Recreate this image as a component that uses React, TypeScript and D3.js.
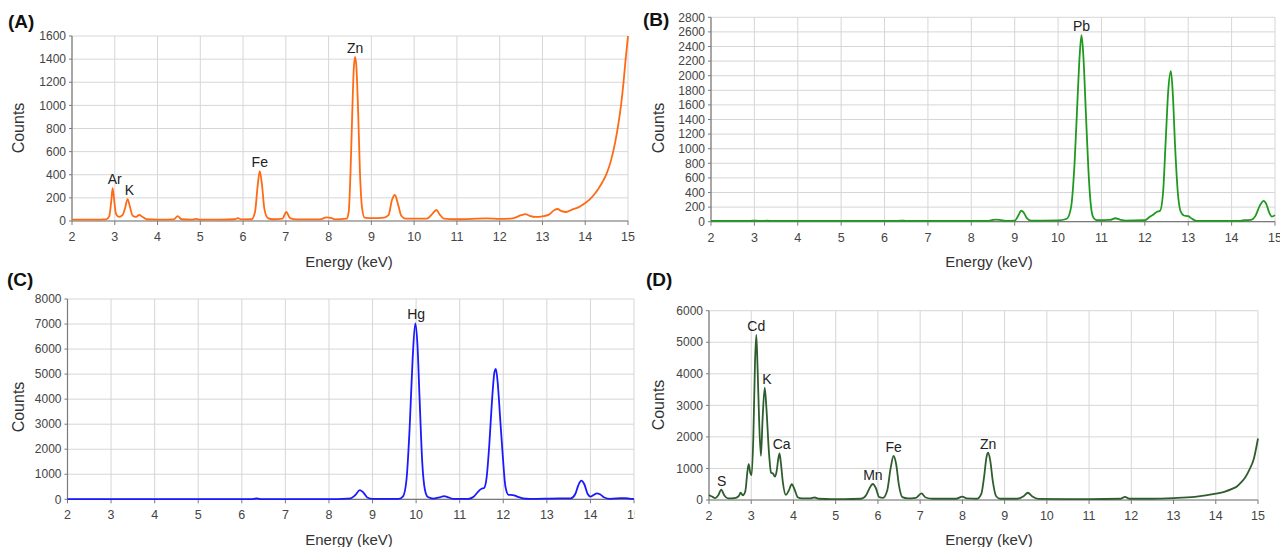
import React from 'react'
import * as d3 from 'd3'

// spectra: [energy keV, counts]
const spectrumA: [number, number][] = [
  [2.0, 12], [2.5, 12], [2.8, 14], [2.87, 40], [2.92, 180], [2.95, 285], [2.98, 200], [3.03, 60], [3.1, 35],
  [3.18, 50], [3.24, 110], [3.3, 190], [3.35, 130], [3.42, 45], [3.5, 35], [3.57, 52], [3.65, 35], [3.75, 15],
  [4.0, 12], [4.38, 14], [4.47, 43], [4.56, 15], [4.8, 12], [4.9, 18], [5.0, 12], [5.5, 12], [5.8, 15],
  [5.88, 25], [5.96, 14], [6.2, 15], [6.28, 80], [6.34, 300], [6.39, 432], [6.44, 320], [6.5, 100], [6.58, 25],
  [6.7, 15], [6.92, 20], [7.01, 78], [7.1, 25], [7.25, 14], [7.8, 14], [7.95, 32], [8.05, 28], [8.15, 14],
  [8.42, 20], [8.47, 80], [8.51, 400], [8.55, 900], [8.59, 1330], [8.62, 1420], [8.65, 1330], [8.69, 950],
  [8.73, 450], [8.78, 120], [8.84, 30], [9.0, 25], [9.3, 30], [9.4, 50], [9.48, 180], [9.55, 225], [9.62, 150],
  [9.7, 45], [9.8, 20], [10.3, 20], [10.42, 60], [10.52, 95], [10.6, 55], [10.7, 20], [11.0, 15], [11.7, 22],
  [12.0, 18], [12.3, 22], [12.5, 50], [12.6, 60], [12.7, 45], [12.85, 35], [13.0, 40], [13.15, 55], [13.28, 95],
  [13.35, 104], [13.45, 85], [13.55, 78], [13.7, 100], [13.85, 120], [14.0, 155], [14.1, 185], [14.2, 225],
  [14.3, 275], [14.4, 335], [14.5, 410], [14.6, 520], [14.7, 680], [14.78, 850], [14.84, 1010], [14.89, 1180],
  [14.94, 1380], [15.0, 1600],
]

const spectrumB: [number, number][] = [
  [2.0, 10], [2.9, 10], [3.0, 16], [3.1, 10], [3.3, 14], [3.4, 10], [6.3, 10], [6.4, 16], [6.5, 10], [8.4, 12],
  [8.55, 28], [8.65, 25], [8.8, 12], [9.0, 15], [9.08, 80], [9.15, 150], [9.2, 130], [9.28, 50], [9.38, 15],
  [10.0, 18], [10.2, 40], [10.3, 200], [10.38, 800], [10.45, 1700], [10.5, 2300], [10.54, 2557], [10.58, 2300],
  [10.64, 1500], [10.7, 700], [10.76, 200], [10.82, 50], [10.9, 20], [11.2, 25], [11.32, 47], [11.42, 30],
  [11.55, 15], [12.0, 20], [12.1, 60], [12.2, 100], [12.28, 137], [12.35, 150], [12.42, 400], [12.48, 1100],
  [12.54, 1800], [12.6, 2064], [12.64, 1800], [12.7, 1000], [12.76, 400], [12.82, 150], [12.9, 85], [13.0, 75],
  [13.1, 35], [13.2, 10], [14.2, 12], [14.3, 20], [14.45, 25], [14.55, 80], [14.65, 220], [14.74, 284],
  [14.8, 240], [14.87, 120], [14.93, 70], [15.0, 90],
]

const spectrumC: [number, number][] = [
  [2.0, 5], [6.2, 5], [6.35, 35], [6.45, 5], [8.1, 8], [8.3, 15], [8.5, 40], [8.6, 160], [8.71, 370], [8.8, 250],
  [8.88, 70], [9.0, 15], [9.6, 20], [9.7, 120], [9.78, 800], [9.85, 2800], [9.92, 5600], [9.98, 7030],
  [10.03, 6200], [10.08, 4000], [10.14, 1500], [10.2, 400], [10.27, 90], [10.4, 30], [10.55, 80], [10.64, 130],
  [10.72, 90], [10.85, 20], [11.2, 20], [11.32, 100], [11.42, 300], [11.5, 420], [11.56, 450], [11.62, 900],
  [11.68, 2200], [11.74, 3900], [11.8, 5100], [11.83, 5205], [11.87, 4700], [11.93, 3200], [11.99, 1700],
  [12.05, 500], [12.12, 180], [12.22, 170], [12.32, 110], [12.45, 40], [12.6, 20], [13.3, 40], [13.55, 40],
  [13.65, 200], [13.72, 550], [13.79, 745], [13.86, 600], [13.94, 200], [14.0, 110], [14.08, 180], [14.15, 240],
  [14.22, 200], [14.32, 70], [14.45, 20], [14.7, 45], [14.8, 50], [14.9, 30], [15.0, 20],
]

const spectrumD: [number, number][] = [
  [2.0, 160], [2.07, 110], [2.15, 60], [2.22, 150], [2.29, 330], [2.36, 150], [2.45, 50], [2.6, 60], [2.7, 120],
  [2.75, 230], [2.8, 150], [2.86, 280], [2.91, 900], [2.94, 1140], [2.98, 850], [3.01, 790], [3.05, 2000],
  [3.09, 4400], [3.12, 5230], [3.15, 4200], [3.19, 2400], [3.23, 1400], [3.27, 2600], [3.32, 3560], [3.36, 2900],
  [3.42, 1500], [3.47, 870], [3.52, 830], [3.56, 740], [3.6, 900], [3.64, 1300], [3.67, 1480], [3.7, 1200],
  [3.75, 550], [3.82, 160], [3.89, 300], [3.96, 500], [4.03, 320], [4.1, 90], [4.2, 50], [4.4, 50], [4.5, 80],
  [4.6, 40], [4.9, 30], [5.2, 30], [5.6, 40], [5.72, 150], [5.82, 420], [5.88, 507], [5.95, 380], [6.03, 90],
  [6.12, 70], [6.22, 300], [6.3, 1000], [6.37, 1395], [6.43, 1150], [6.5, 450], [6.58, 90], [6.7, 50], [6.9, 70],
  [7.03, 210], [7.13, 80], [7.3, 40], [7.85, 40], [8.0, 110], [8.1, 50], [8.35, 40], [8.45, 200], [8.52, 800],
  [8.57, 1350], [8.61, 1500], [8.66, 1250], [8.72, 600], [8.8, 120], [8.9, 40], [9.3, 40], [9.45, 120],
  [9.55, 230], [9.65, 120], [9.8, 35], [10.5, 30], [11.0, 30], [11.75, 40], [11.85, 100], [11.95, 40],
  [12.5, 40], [13.0, 60], [13.5, 100], [14.0, 200], [14.2, 260], [14.4, 360], [14.5, 430], [14.6, 560],
  [14.7, 720], [14.8, 970], [14.9, 1300], [15.0, 1950],
]

// element labels: [name, energy, counts at label]
const labelsA: [string, number, number][] = [['Ar', 3.0, 285], ['K', 3.34, 190], ['Fe', 6.39, 432], ['Zn', 8.62, 1420]]
const labelsB: [string, number, number][] = [['Pb', 10.54, 2557]]
const labelsC: [string, number, number][] = [['Hg', 10.0, 7030]]
const labelsD: [string, number, number][] = [
  ['S', 2.3, 330], ['Cd', 3.12, 5230], ['K', 3.37, 3560], ['Ca', 3.72, 1480],
  ['Mn', 5.88, 507], ['Fe', 6.37, 1395], ['Zn', 8.61, 1500],
]

const energyTicks = d3.range(2, 16)
const yTicksA = d3.range(0, 1601, 200)
const yTicksB = d3.range(0, 2801, 200)
const yTicksC = d3.range(0, 8001, 1000)
const yTicksD = d3.range(0, 6001, 1000)

const FONT = 'Liberation Sans, Arial, sans-serif'

type PanelProps = {
  id: string
  tag: string
  data: [number, number][]
  labels: [string, number, number][]
  yTicks: number[]
  color: string
  box: { l: number; r: number; t: number; b: number }
  tagPos: [number, number]
  xTitle: [number, number]
  yTitle: [number, number]
  clipRight?: number
}

function Panel({ id, tag, data, labels, yTicks, color, box, tagPos, xTitle, yTitle, clipRight }: PanelProps) {
  const x = d3.scaleLinear().domain([2, 15]).range([box.l, box.r])
  const y = d3.scaleLinear().domain([0, yTicks[yTicks.length - 1]]).range([box.b, box.t])
  const line = d3.line<[number, number]>()
    .x(d => x(d[0]))
    .y(d => y(d[1]))
    .curve(d3.curveMonotoneX)

  return (
    <g clipPath={clipRight ? `url(#clip-${id})` : undefined}>
      {clipRight && (
        <defs>
          <clipPath id={`clip-${id}`}>
            <rect x={0} y={0} width={clipRight} height={547} />
          </clipPath>
        </defs>
      )}
      {/* grid */}
      {yTicks.map(t => (
        <line key={'h' + t} x1={box.l} x2={box.r} y1={y(t)} y2={y(t)} stroke="#d6d6d6" strokeWidth={1} />
      ))}
      {energyTicks.map(t => (
        <line key={'v' + t} x1={x(t)} x2={x(t)} y1={box.t} y2={box.b} stroke="#d6d6d6" strokeWidth={1} />
      ))}
      {/* axes */}
      <line x1={box.l} x2={box.l} y1={box.t} y2={box.b} stroke="#7a7a7a" strokeWidth={1.2} />
      <line x1={box.l} x2={box.r} y1={box.b} y2={box.b} stroke="#7a7a7a" strokeWidth={1.2} />
      {energyTicks.map(t => (
        <line key={'xt' + t} x1={x(t)} x2={x(t)} y1={box.b} y2={box.b + 4} stroke="#7a7a7a" />
      ))}
      {yTicks.map(t => (
        <line key={'yt' + t} x1={box.l - 3} x2={box.l} y1={y(t)} y2={y(t)} stroke="#7a7a7a" />
      ))}
      {energyTicks.map(t => (
        <text key={'xl' + t} x={x(t)} y={box.b + 20} textAnchor="middle" fontSize={12.5} fill="#444" fontFamily={FONT}>
          {t}
        </text>
      ))}
      {yTicks.map(t => (
        <text key={'yl' + t} x={box.l - 6} y={y(t)} dy="0.35em" textAnchor="end" fontSize={12} fill="#444" fontFamily={FONT}>
          {t}
        </text>
      ))}
      {/* spectrum */}
      <path d={line(data) ?? ''} fill="none" stroke={color} strokeWidth={1.8} strokeLinejoin="round" />
      {labels.map(([name, e, c]) => (
        <text key={name + e} x={x(e)} y={y(c) - 4} textAnchor="middle" fontSize={14} fill="#222" fontFamily={FONT}>
          {name}
        </text>
      ))}
      {/* titles */}
      <text x={xTitle[0]} y={xTitle[1]} textAnchor="middle" fontSize={15} fill="#333" fontFamily={FONT}>
        Energy (keV)
      </text>
      <text
        transform={`translate(${yTitle[0]},${yTitle[1]}) rotate(-90)`}
        textAnchor="middle" dy="0.35em" fontSize={16} fill="#333" fontFamily={FONT}
      >
        Counts
      </text>
      <text x={tagPos[0]} y={tagPos[1]} fontSize={19} fontWeight="bold" fill="#111" fontFamily={FONT}>
        {tag}
      </text>
    </g>
  )
}

export default function App() {
  return (
    <svg width={1280} height={547} style={{ position: 'absolute', left: 0, top: 0, display: 'block', background: '#fff' }}>
      <rect width={1280} height={547} fill="#fff" />
      <Panel id="a" tag="(A)" data={spectrumA} labels={labelsA} yTicks={yTicksA} color="#ff6a13"
        box={{ l: 72, r: 628, t: 36, b: 221 }} tagPos={[8, 28]} xTitle={[349, 267]} yTitle={[18, 128]} />
      <Panel id="b" tag="(B)" data={spectrumB} labels={labelsB} yTicks={yTicksB} color="#1f9a1f"
        box={{ l: 711, r: 1275, t: 17.3, b: 221.7 }} tagPos={[643, 26]} xTitle={[989, 267]} yTitle={[658, 128]} />
      <Panel id="c" tag="(C)" data={spectrumC} labels={labelsC} yTicks={yTicksC} color="#1a1aff"
        box={{ l: 67.5, r: 634, t: 299, b: 499.3 }} tagPos={[7, 286]} xTitle={[349, 545]} yTitle={[18, 407]}
        clipRight={635} />
      <Panel id="d" tag="(D)" data={spectrumD} labels={labelsD} yTicks={yTicksD} color="#2e5e2e"
        box={{ l: 709, r: 1258, t: 310.7, b: 500 }} tagPos={[646, 286]} xTitle={[989, 545]} yTitle={[658, 405]} />
    </svg>
  )
}
